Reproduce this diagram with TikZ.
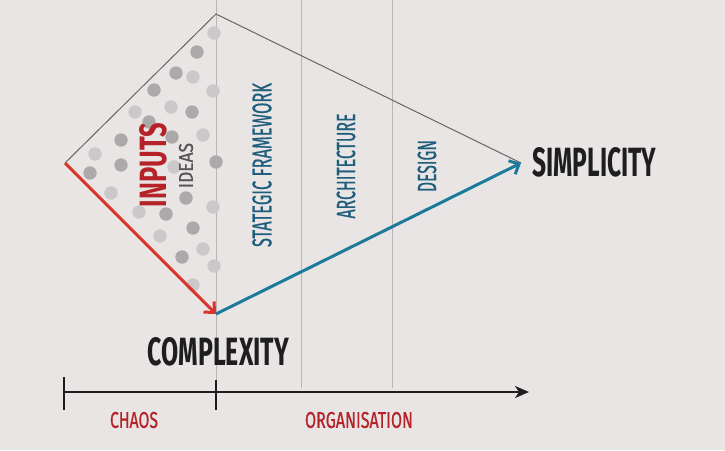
\documentclass[tikz,border=0pt]{standalone}
\usepackage{fontspec}
\usepackage{graphicx}
\setmainfont{Fira Sans}
\newfontfamily\medfont{Fira Sans}[FakeBold=0.8]
\usetikzlibrary{arrows.meta}
\definecolor{bg}{HTML}{E9E5E5}
\definecolor{gridc}{HTML}{B9B5B5}
\definecolor{outc}{HTML}{6A6666}
\definecolor{redarr}{HTML}{D9342B}
\definecolor{redtxt}{HTML}{B52228}
\definecolor{bluearr}{HTML}{1C7B9B}
\definecolor{bluetxt}{HTML}{1E5E7C}
\definecolor{darktxt}{HTML}{1E1E1E}
\definecolor{graytxt}{HTML}{555555}
\definecolor{dotd}{HTML}{ABA9A9}
\definecolor{dotl}{HTML}{CAC8C8}
\newcommand{\fitbox}[3]{\resizebox{#1}{#2}{#3}}
\tikzset{
  gridline/.style={draw=gridc, line width=0.9pt},
  outline/.style={draw=outc, line width=1pt},
  redarrow/.style={draw=redarr, line width=3pt, -{Straight Barb[length=8pt,width=15pt]}},
  bluearrow/.style={draw=bluearr, line width=3pt, -{Straight Barb[length=8pt,width=15pt]}},
  axisline/.style={draw=darktxt, line width=2pt, -{Stealth[length=14pt,width=12pt,inset=4pt]}},
  tickline/.style={draw=darktxt, line width=2pt},
  txt/.style={inner sep=0pt, outer sep=0pt},
  dotdark/.style={fill=dotd},
  dotlight/.style={fill=dotl},
}
\begin{document}
\begin{tikzpicture}[x=1pt,y=-1pt]
\useasboundingbox (0,0) rectangle (725,450);
\fill[bg] (0,0) rectangle (725,450);
% key points
\coordinate (L) at (65,163);
\coordinate (T) at (216,14);
\coordinate (B) at (216,314);
\coordinate (S) at (521,163);
\coordinate (A0) at (64,392);
\coordinate (A1) at (529,392);
% grid lines
\draw[gridline] (216,0) -- (216,392);
\draw[gridline] (301,0) -- (301,388);
\draw[gridline] (392,0) -- (392,388);
% dots
\foreach \x/\y in {197/52,176/73,154/90,192/112,149/122,172/137,121/140,121/165,216/162,90/173,186/198,166/214,193/228,182/257}
  \fill[dotdark] (\x,\y) circle (6.7pt);
\foreach \x/\y in {214/33,193/77,213/91,171/107,135/112,203/135,95/154,174/167,111/193,213/207,139/212,160/236,203/249,214/266,193/285}
  \fill[dotlight] (\x,\y) circle (6.7pt);
% outline
\draw[outline] (L) -- (T) -- (S);
% arrows
\draw[redarrow] (L) -- (B);
\draw[bluearrow] (B) -- (S);
% axis
\draw[axisline] (A0) -- (A1);
\draw[tickline] (64,377) -- (64,410);
\draw[tickline] (216,380) -- (216,410);
% texts
\node[txt, text=redtxt, rotate=90] (inputs) at (153.5,165) {\fitbox{84pt}{27pt}{\bfseries INPUTS}};
\node[txt, text=graytxt, rotate=90] (ideas) at (186,165.5) {\fitbox{45pt}{14pt}{\medfont IDEAS}};
\node[txt, text=bluetxt, rotate=90] (strat) at (262,165) {\fitbox{164pt}{19pt}{\medfont STATEGIC FRAMEWORK}};
\node[txt, text=bluetxt, rotate=90] (arch) at (346,166) {\fitbox{105pt}{18.5pt}{\medfont ARCHITECTURE}};
\node[txt, text=bluetxt, rotate=90] (design) at (427,166) {\fitbox{52pt}{18.5pt}{\medfont DESIGN}};
\node[txt, text=darktxt] (simplicity) at (594.5,162) {\fitbox{124pt}{29pt}{\bfseries SIMPLICITY}};
\node[txt, text=darktxt] (complexity) at (218.5,352) {\fitbox{141pt}{28pt}{\bfseries COMPLEXITY}};
\node[txt, text=redtxt] (chaos) at (134,420) {\fitbox{48pt}{16pt}{\medfont CHAOS}};
\node[txt, text=redtxt] (organisation) at (359,420) {\fitbox{108pt}{16pt}{\medfont ORGANISATION}};
\end{tikzpicture}
\end{document}
